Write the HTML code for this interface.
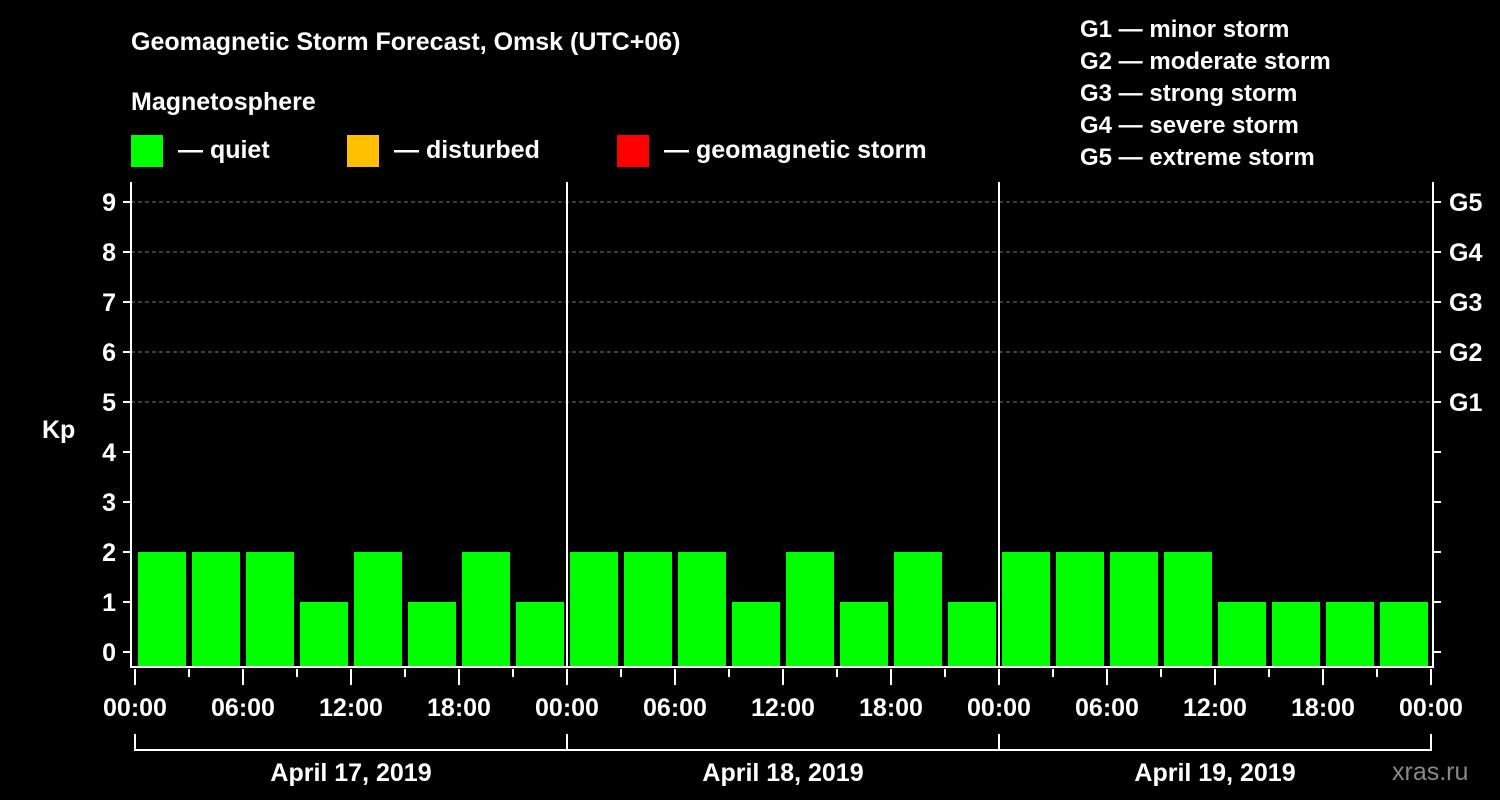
<!DOCTYPE html>
<html><head><meta charset="utf-8"><style>
html,body{margin:0;padding:0;background:#000;}
svg{display:block;font-family:"Liberation Sans",Arial,sans-serif;font-weight:bold;}
</style></head><body>
<svg id="chart" width="1500" height="800" viewBox="0 0 1500 800" xmlns="http://www.w3.org/2000/svg">
<rect width="1500" height="800" fill="#000"/>
<text x="131" y="50" fill="#fff" font-size="25">Geomagnetic Storm Forecast, Omsk (UTC+06)</text>
<text x="131" y="110" fill="#fff" font-size="25">Magnetosphere</text>
<g><rect x="131" y="135" width="32" height="32" fill="#00ff00"/><text x="178" y="158" fill="#fff" font-size="25">— quiet</text></g>
<g><rect x="347" y="135" width="32" height="32" fill="#ffc000"/><text x="394" y="158" fill="#fff" font-size="25">— disturbed</text></g>
<g><rect x="617" y="135" width="32" height="32" fill="#ff0000"/><text x="664" y="158" fill="#fff" font-size="25">— geomagnetic storm</text></g>
<g fill="#fff" font-size="24">
<text x="1080" y="37">G1 — minor storm</text>
<text x="1080" y="69">G2 — moderate storm</text>
<text x="1080" y="101">G3 — strong storm</text>
<text x="1080" y="133">G4 — severe storm</text>
<text x="1080" y="165">G5 — extreme storm</text>
</g>
<g id="grid"></g>
<g id="bars"></g>
<g id="axes"></g>
<text x="42" y="438" fill="#fff" font-size="25">Kp</text>
<text x="1392" y="780" fill="#888" font-size="25" font-weight="normal">xras.ru</text>
</svg>
<script>
const kpValues = [2,2,2,1,2,1,2,1, 2,2,2,1,2,1,2,1, 2,2,2,2,1,1,1,1];
const dayLabels = ["April 17, 2019","April 18, 2019","April 19, 2019"];
const hourLabels = ["00:00","06:00","12:00","18:00"];
const kpTicks = [0,1,2,3,4,5,6,7,8,9];
const gLabels = ["G1","G2","G3","G4","G5"];

const NS="http://www.w3.org/2000/svg";
const X0=135, DAYW=432, PLOT_L=131, PLOT_R=1433, PLOT_T=182, PLOT_B=667;
const xScale = h => X0 + h/24*DAYW;        // hours since start
const yScale = k => 652 - k*50;
function mk(tag, attrs, parent){const e=document.createElementNS(NS,tag);for(const k in attrs)e.setAttribute(k,attrs[k]);parent.appendChild(e);return e;}
const grid=document.getElementById('grid'), bars=document.getElementById('bars'), axes=document.getElementById('axes');

for(let k=5;k<=9;k++){
  const l=mk('line',{x1:PLOT_L,x2:PLOT_R,y1:yScale(k),y2:yScale(k),stroke:'#777','stroke-width':1,'stroke-dasharray':'4,3'},grid);
  
  
}
kpValues.forEach((v,i)=>{
  const x1=xScale(i*3)+3, x2=xScale(i*3+3)-3;
  const r=mk('rect',{x:x1,y:yScale(v),width:x2-x1,height:PLOT_B-yScale(v),fill:v>=5?'#ff0000':(v>=4?'#ffc000':'#00ff00')},bars);
  
  
});
// plot frame
const frame=mk('path',{d:`M${PLOT_L},${PLOT_T}V${PLOT_B}H${PLOT_R}V${PLOT_T}`,fill:'none',stroke:'#fff','stroke-width':2},axes);


for(let d=1;d<dayLabels.length;d++){
  const s=mk('line',{x1:xScale(d*24),x2:xScale(d*24),y1:PLOT_T,y2:PLOT_B,stroke:'#fff','stroke-width':2},axes);
  
  
}
kpTicks.forEach(k=>{
  mk('line',{x1:123,x2:PLOT_L,y1:yScale(k),y2:yScale(k),stroke:'#fff','stroke-width':2},axes);
  mk('line',{x1:PLOT_R,x2:1441,y1:yScale(k),y2:yScale(k),stroke:'#fff','stroke-width':2},axes);
  const t=mk('text',{x:116,y:yScale(k)+9,fill:'#fff','font-size':25,'text-anchor':'end'},axes);
  t.textContent=k;
  
  
});
gLabels.forEach((g,i)=>{
  const t=mk('text',{x:1449,y:yScale(5+i)+9,fill:'#fff','font-size':25},axes);
  t.textContent=g;
  
  
});
const nDays=dayLabels.length;
for(let h=0;h<=nDays*24;h+=3){
  const major=h%6===0;
  mk('line',{x1:xScale(h),x2:xScale(h),y1:PLOT_B+2,y2:major?685:677,stroke:'#fff','stroke-width':2},axes);
}
for(let h=0;h<=nDays*24;h+=6){
  const t=mk('text',{x:xScale(h),y:716,fill:'#fff','font-size':25,'text-anchor':'middle'},axes);
  t.textContent=hourLabels[(h/6)%4];
  
  
}
const br=mk('line',{x1:xScale(0),x2:xScale(nDays*24),y1:750,y2:750,stroke:'#fff','stroke-width':2},axes);


for(let d=0;d<=nDays;d++) mk('line',{x1:xScale(d*24),x2:xScale(d*24),y1:734,y2:751,stroke:'#fff','stroke-width':2},axes);
dayLabels.forEach((lab,d)=>{
  const t=mk('text',{x:xScale(d*24+12),y:781,fill:'#fff','font-size':25,'text-anchor':'middle'},axes);
  t.textContent=lab;
  
  
});
</script>
</body></html>
